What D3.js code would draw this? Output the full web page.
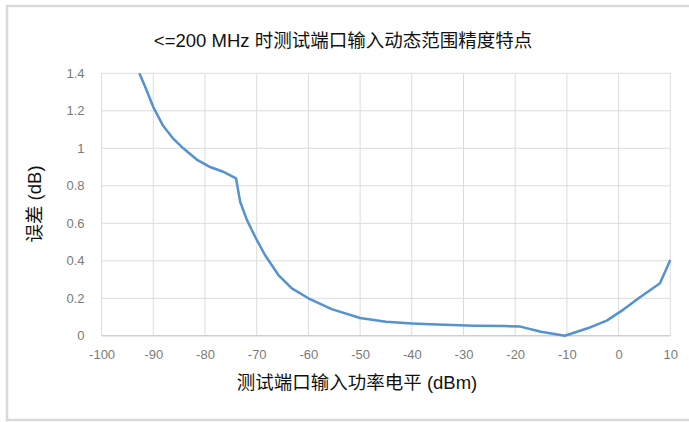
<!DOCTYPE html>
<html><head><meta charset="utf-8">
<script src="https://cdn.jsdelivr.net/npm/d3@7"></script>
<style>body{margin:0;background:#fff;}svg{display:block;}</style>
</head><body>
<script>
const titleText = "<=200 MHz 时测试端口输入动态范围精度特点";
const xTitle = "测试端口输入功率电平 (dBm)";
const yTitle = "误差 (dB)";
const xTicks = [-100,-90,-80,-70,-60,-50,-40,-30,-20,-10,0,10];
const yTicks = [0,0.2,0.4,0.6,0.8,1,1.2,1.4];
const powerDbm = [-92.7,-91.6,-90,-88.1,-86.1,-84.2,-81.6,-79,-76.5,-74,-73.2,-71.9,-70.3,-68.4,-65.8,-63.2,-60,-55.5,-50,-45,-40,-35,-28,-22,-19,-15,-10.4,-6,-2.3,1,4,8,10];
const errorDb = [1.40,1.33,1.22,1.12,1.05,1.0,0.94,0.90,0.875,0.84,0.715,0.618,0.528,0.431,0.324,0.253,0.20,0.142,0.095,0.075,0.066,0.06,0.054,0.052,0.049,0.022,0.0,0.04,0.081,0.141,0.203,0.28,0.404];

const W=689,H=422;
const svg=d3.select("body").append("svg").attr("width",W).attr("height",H);
const font="'Liberation Sans', Arial, 'Noto Sans CJK SC', sans-serif";

svg.append("rect").attr("x",7).attr("y",6).attr("width",720).attr("height",414)
  .attr("fill","#fff").attr("stroke","#d9d9d9").attr("stroke-width",2.5);

const x=d3.scaleLinear().domain([-100,10]).range([101.6,670.3]);
const y=d3.scaleLinear().domain([0,1.4]).range([335.8,73.3]);

const g=svg.append("g");
g.selectAll("line.v").data(xTicks).join("line")
  .attr("x1",d=>x(d)).attr("x2",d=>x(d)).attr("y1",y(1.4)).attr("y2",y(0))
  .attr("stroke","#dcdcdc").attr("stroke-width",1);
g.selectAll("line.h").data(yTicks).join("line")
  .attr("x1",x(-100)).attr("x2",x(10)).attr("y1",d=>y(d)).attr("y2",d=>y(d))
  .attr("stroke",d=>d===0?"#cfcfcf":"#dcdcdc").attr("stroke-width",d=>d===0?1.5:1);

const xa=svg.append("g").attr("transform",`translate(0,${y(0)})`)
  .call(d3.axisBottom(x).tickValues(xTicks).tickSize(0).tickPadding(14).tickFormat(d=>String(d)));
xa.select(".domain").remove();
xa.selectAll("text").attr("fill","#7a7a7a").style("font-family",font).style("font-size","13px");

const ya=svg.append("g").attr("transform",`translate(${x(-100)},0)`)
  .call(d3.axisLeft(y).tickValues(yTicks).tickSize(0).tickPadding(17).tickFormat(d=>String(+d.toFixed(1))));
ya.select(".domain").remove();
ya.selectAll("text").attr("fill","#7a7a7a").style("font-family",font).style("font-size","13px");

const line=d3.line().x((d,i)=>x(powerDbm[i])).y((d,i)=>y(errorDb[i]));
svg.append("path").datum(errorDb).attr("d",line).attr("fill","none")
  .attr("stroke","#5592d0").attr("stroke-width",2.5).attr("stroke-linejoin","round");

svg.append("text").attr("x",343).attr("y",47).attr("text-anchor","middle")
  .style("font-family",font).style("font-size","18.5px").attr("fill","#111").text(titleText);
svg.append("text").attr("x",357).attr("y",389).attr("text-anchor","middle")
  .style("font-family",font).style("font-size","18.5px").attr("fill","#111").text(xTitle);
svg.append("text").attr("transform","translate(41,204) rotate(-90)").attr("text-anchor","middle")
  .style("font-family",font).style("font-size","18.5px").attr("fill","#111").text(yTitle);
</script>
</body></html>
